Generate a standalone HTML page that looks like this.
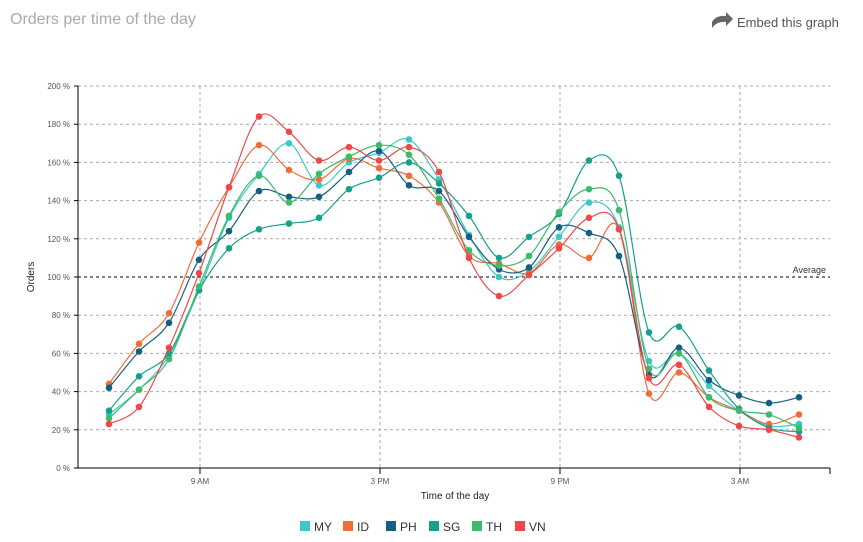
<!DOCTYPE html>
<html><head><meta charset="utf-8"><style>
body{margin:0;background:#fff;font-family:"Liberation Sans",sans-serif;}
#w{position:relative;width:863px;height:542px;overflow:hidden}
</style></head><body><div id="w">
<svg id="s" width="863" height="542" xmlns="http://www.w3.org/2000/svg" font-family="Liberation Sans, sans-serif">
<text x="10" y="24" font-size="16" fill="#aaa">Orders per time of the day</text>
<path d="M712 28 L712 22 Q716 15 726 16 L726 12 L733 19 L726 26 L726 22 Q717 21 712 28Z" fill="#666"/>
<text x="737" y="27" font-size="13" fill="#555">Embed this graph</text>
<g id="grid"></g>
<line x1="78" y1="86" x2="78" y2="468" stroke="#000"/>
<line x1="78" y1="468" x2="830" y2="468" stroke="#000"/>
<line x1="78" y1="277" x2="830" y2="277" stroke="#000" stroke-dasharray="3,3"/>
<text x="826" y="273" font-size="9" fill="#333" text-anchor="end">Average</text>
<g font-size="8" fill="#555" text-anchor="middle">
<text x="200" y="484">9 AM</text><text x="380" y="484">3 PM</text><text x="560" y="484">9 PM</text><text x="740" y="484">3 AM</text>
</g>
<text x="455" y="499" font-size="10" fill="#222" text-anchor="middle">Time of the day</text>
<text transform="translate(34,277) rotate(-90)" font-size="10" fill="#222" text-anchor="middle">Orders</text>
<g id="series"></g>
<g id="leg" font-size="12" fill="#333"></g>
</svg></div>
<script>
var NS="http://www.w3.org/2000/svg",g=document.getElementById('grid');
function el(t,a,p){var e=document.createElementNS(NS,t);for(var k in a)e.setAttribute(k,a[k]);p.appendChild(e);return e;}
function Y(v){return 468-v*1.91;}
for(var v=0;v<=200;v+=20){var y=Y(v);
 if(v>0&&v!=100)el('line',{x1:78,y1:y,x2:830,y2:y,stroke:'#aaa','stroke-dasharray':'3,3'},g);
 el('line',{x1:74,y1:y,x2:78,y2:y,stroke:'#000'},g);
 var t=el('text',{x:70,y:y+3,'font-size':8,fill:'#555','text-anchor':'end'},g);t.textContent=v+' %';}
[200,380,560,740].forEach(function(x){el('line',{x1:x,y1:86,x2:x,y2:468,stroke:'#aaa','stroke-dasharray':'3,3'},g);el('line',{x1:x,y1:468,x2:x,y2:474,stroke:'#000'},g);});
el('line',{x1:830,y1:468,x2:830,y2:474,stroke:'#000'},g);
var D=[
['MY','#3cc8c8',[28,41,59,93,131,154,170,148,160,165,172,151,122,100,103,121,139,126,56,60,43,30,22,23]],
['ID','#f26c3a',[44,65,81,118,147,169,156,151,162,157,153,139,111,107,102,117,110,125,39,50,37,30,23,28]],
['PH','#155f82',[42,61,76,109,124,145,142,142,155,166,148,145,121,104,105,126,123,111,49,63,46,38,34,37]],
['SG','#17a08c',[30,48,60,93,115,125,128,131,146,152,160,149,132,110,121,133,161,153,71,74,51,31,21,19]],
['TH','#3dba6c',[26,41,57,95,132,153,139,154,163,169,164,141,114,106,111,134,146,135,52,60,37,30,28,21]],
['VN','#f04848',[23,32,63,102,147,184,176,161,168,161,168,155,110,90,101,115,131,125,47,54,32,22,20,16]]];
var S=document.getElementById('series'),L=document.getElementById('leg');
var lx=300;
D.forEach(function(d){
 var P=d[2].map(function(v,i){return [109+30*i,Y(v)];});
 var p='M'+P[0][0]+' '+P[0][1];
 for(var i=0;i<P.length-1;i++){var a=P[Math.max(i-1,0)],b=P[i],c=P[i+1],e=P[Math.min(i+2,P.length-1)];
  p+=' C'+(b[0]+(c[0]-a[0])/6)+' '+(b[1]+(c[1]-a[1])/6)+' '+(c[0]-(e[0]-b[0])/6)+' '+(c[1]-(e[1]-b[1])/6)+' '+c[0]+' '+c[1];}
 el('path',{d:p,fill:'none',stroke:d[1],'stroke-width':1.2},S);
 P.forEach(function(q){el('circle',{cx:q[0],cy:q[1],r:3.3,fill:d[1]},S);});
 el('rect',{x:lx,y:521,width:10,height:10,fill:d[1]},L);
 var t=el('text',{x:lx+14,y:531},L);t.textContent=d[0];lx+=43;
});
</script></body></html>
